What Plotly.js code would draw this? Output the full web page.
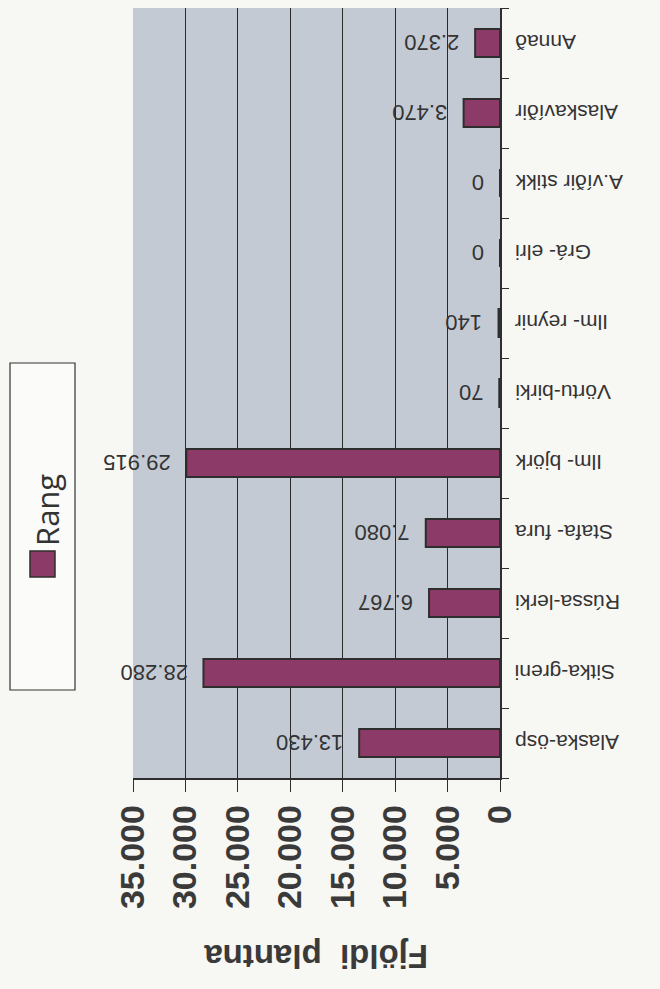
<!DOCTYPE html>
<html>
<head>
<meta charset="utf-8">
<script src="https://cdn.plot.ly/plotly-3.0.1.min.js"></script>
<style>
  html, body { margin: 0; padding: 0; background: #f7f7f4; }
  #chart { width: 660px; height: 989px; }
</style>
</head>
<body>
<div id="chart"></div>
<script>
// Data (original category order, first = bottom of the axis)
const categories = ["Alaska-ösp", "Sitka-greni", "Rússa-lerki", "Stafa- fura", "Ilm- björk",
                    "Vörtu-birki", "Ilm- reynir", "Grá- elri", "A.víðir stikk", "Alaskavíðir", "Annað"];
const rangValues = [13430, 28280, 6767, 7080, 29915, 70, 140, 0, 0, 3470, 2370];
const seriesName = "Rang";
const axisTitle = "Fjöldi  plantna";
const valueTicks = [0, 5000, 10000, 15000, 20000, 25000, 30000, 35000];

// Layout geometry (pixels)
const W = 660, H = 989;
const M = { l: 133, r: 160, t: 8, b: 211 };
const pw = W - M.l - M.r, ph = H - M.t - M.b;
const px2x = p => (p - M.l) / pw;
const py2y = p => (H - M.b - p) / ph;

const barColor = "#8c3b68";
const dark = "#2e2e2e";
const fmt = v => v.toString().replace(/\B(?=(\d{3})+(?!\d))/g, ".");

const trace = {
  type: "bar",
  orientation: "h",
  name: seriesName,
  x: rangValues,
  y: categories,
  width: 0.4,
  marker: { color: barColor, line: { color: dark, width: 2 } },
  hoverinfo: "x+y",
  showlegend: false
};

// Category labels (upside down, to the right of the axis)
const catAnnotations = categories.map(c => ({
  text: c,
  xref: "paper", yref: "y",
  x: 1, y: c,
  xanchor: "left", yanchor: "middle",
  xshift: 13,
  textangle: 180,
  showarrow: false,
  font: { family: "Liberation Sans, Arial, sans-serif", size: 21, color: "#333" }
}));

// Data labels (upside down, beyond the bar end)
const valAnnotations = rangValues.map((v, i) => ({
  text: fmt(v),
  xref: "x", yref: "y",
  x: v, y: categories[i],
  xanchor: "right", yanchor: "middle",
  xshift: -14,
  textangle: 180,
  showarrow: false,
  font: { family: "Liberation Sans, Arial, sans-serif", size: 22, color: "#333" }
}));

const layout = {
  width: W, height: H,
  margin: M,
  separators: ",.",
  paper_bgcolor: "#f7f7f4",
  plot_bgcolor: "#c3cad3",
  showlegend: false,
  xaxis: {
    range: [35000, 0],
    autorange: false,
    tickvals: valueTicks,
    tickformat: ",d",
    tickangle: -90,
    ticks: "outside",
    ticklen: 12,
    tickcolor: dark,
    tickfont: { family: "Liberation Sans, Arial, sans-serif", size: 34, color: "#3a3a3a", weight: "bold" },
    showgrid: true,
    gridcolor: "#2a2a2a",
    gridwidth: 1,
    zeroline: false,
    showline: true,
    linecolor: dark,
    linewidth: 1.5,
    fixedrange: true
  },
  yaxis: {
    type: "category",
    categoryorder: "array",
    categoryarray: categories,
    side: "right",
    ticks: "outside",
    tickson: "boundaries",
    ticklen: 7,
    tickcolor: dark,
    showticklabels: false,
    showgrid: false,
    showline: true,
    linecolor: dark,
    linewidth: 1.5,
    fixedrange: true
  },
  annotations: [
    ...catAnnotations,
    ...valAnnotations,
    {
      text: axisTitle,
      xref: "paper", yref: "paper",
      x: 0.5, y: py2y(957),
      xanchor: "center", yanchor: "middle",
      textangle: 180,
      showarrow: false,
      font: { family: "Liberation Sans, Arial, sans-serif", size: 33, color: "#3a3a3a", weight: "bold" }
    },
    {
      text: seriesName,
      xref: "paper", yref: "paper",
      x: px2x(47), y: py2y(510),
      xanchor: "center", yanchor: "middle",
      textangle: -90,
      showarrow: false,
      font: { family: "Open Sans, Liberation Sans, sans-serif", size: 31, color: "#333" }
    }
  ],
  shapes: [
    {
      type: "rect", xref: "paper", yref: "paper",
      x0: px2x(10), x1: px2x(75), y0: py2y(690), y1: py2y(363),
      line: { color: "#333", width: 1.2 }, fillcolor: "#fbfbf9", layer: "above"
    },
    {
      type: "rect", xref: "paper", yref: "paper",
      x0: px2x(30), x1: px2x(55), y0: py2y(577), y1: py2y(551),
      line: { color: dark, width: 1.5 }, fillcolor: barColor, layer: "above"
    }
  ]
};

Plotly.newPlot("chart", [trace], layout, { displayModeBar: false, staticPlot: true });
</script>
</body>
</html>
